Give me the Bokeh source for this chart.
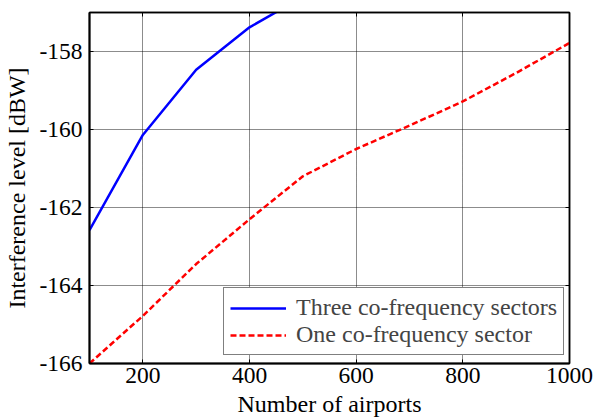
from bokeh.plotting import figure
from bokeh.models import Range1d, LinearAxis, FixedTicker, Legend, LegendItem
from bokeh.embed import file_html
from bokeh.resources import INLINE

# data
airports = [100, 200, 300, 400, 500, 600, 700, 800, 900, 1000]
three_sector_x = [100, 200, 300, 400, 500]
three_sector = [-162.58, -160.14, -158.47, -157.38, -156.6]
one_sector = [-166.0, -164.78, -163.45, -162.3, -161.2, -160.5, -159.9, -159.28, -158.55, -157.78]
x_ticks = [200, 400, 600, 800, 1000]
y_ticks = [-166, -164, -162, -160, -158]

FONT = "Liberation Serif"
FS = "24px"
TFS = "23.5px"

p = figure(width=596, height=420, output_backend="svg", toolbar_location=None,
           x_range=Range1d(100, 1000), y_range=Range1d(-166, -157),
           min_border_left=89, min_border_right=27, min_border_top=12, min_border_bottom=57)

p.background_fill_color = "white"
p.border_fill_color = "white"
p.outline_line_color = "black"
p.outline_line_width = 1.5

for ax in [p.xaxis[0], p.yaxis[0]]:
    ax.major_label_text_font = FONT
    ax.major_label_text_font_size = TFS
    ax.axis_label_text_font = FONT
    ax.axis_label_text_font_size = FS
    ax.axis_label_text_font_style = "normal"
    ax.major_tick_in = 4
    ax.major_tick_out = 0
    ax.minor_tick_in = 0
    ax.minor_tick_out = 0
    ax.axis_line_width = 2
    ax.axis_line_color = "black"
    ax.major_tick_line_color = "black"
    ax.major_label_text_color = "black"
    ax.axis_label_text_color = "black"

p.xaxis[0].ticker = FixedTicker(ticks=x_ticks)
p.yaxis[0].ticker = FixedTicker(ticks=y_ticks)
p.xaxis[0].major_label_overrides = {t: str(t) for t in x_ticks}
p.yaxis[0].major_label_overrides = {t: str(t) for t in y_ticks}
p.xaxis[0].axis_label = "Number of airports"
p.yaxis[0].axis_label = "Interference level [dBW]"
p.xaxis[0].major_label_standoff = 4
p.xaxis[0].axis_label_standoff = 5
p.yaxis[0].major_label_standoff = 7
p.yaxis[0].axis_label_standoff = 6

for loc, tick in [("above", x_ticks), ("right", y_ticks)]:
    ax = LinearAxis(ticker=FixedTicker(ticks=tick), major_label_text_font_size="1px",
                    major_label_text_color=None,
                    major_tick_in=4, major_tick_out=0, minor_tick_in=0, minor_tick_out=0,
                    major_label_standoff=0, axis_line_width=1.5, axis_line_color="black")
    p.add_layout(ax, loc)

p.xgrid.ticker = FixedTicker(ticks=x_ticks)
p.ygrid.ticker = FixedTicker(ticks=y_ticks)
for g in [p.xgrid[0], p.ygrid[0]]:
    g.grid_line_color = "black"
    g.grid_line_dash = "1 1"
    g.grid_line_width = 1
    g.grid_line_alpha = 0.9

r1 = p.line(three_sector_x, three_sector, line_color="#0000ff", line_width=2.5)
r2 = p.line(airports, one_sector, line_color="#ff0000", line_width=2.5, line_dash="6 3")

legend = Legend(items=[LegendItem(label="Three co-frequency sectors", renderers=[r1]),
                       LegendItem(label="One co-frequency sector", renderers=[r2])],
                location=(134, 8))
legend.label_text_font = FONT
legend.label_text_font_size = FS
legend.border_line_color = "black"
legend.border_line_width = 1.5
legend.padding = 6
legend.margin = 0
legend.spacing = 0
legend.glyph_width = 56
legend.label_standoff = 10
legend.background_fill_alpha = 1
p.add_layout(legend, "center")

open("out.html", "w").write(file_html(p, INLINE))
